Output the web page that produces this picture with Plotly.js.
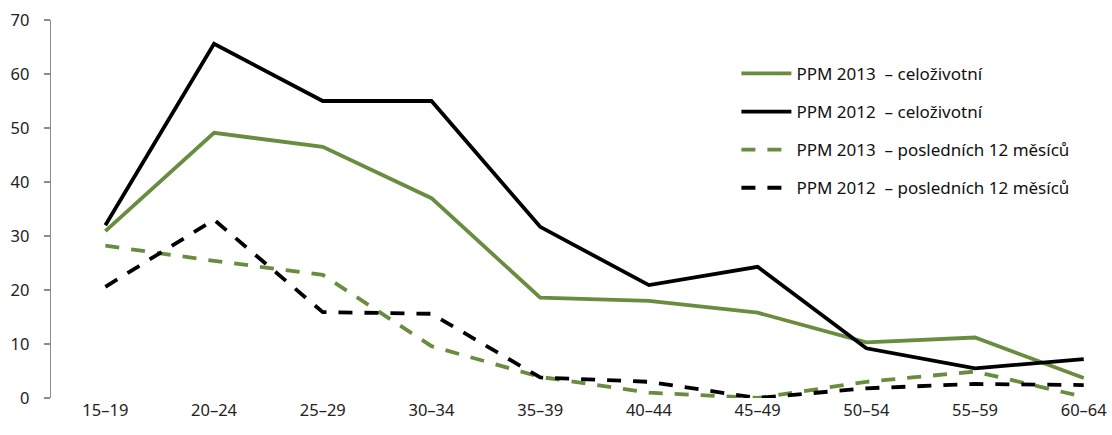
<!DOCTYPE html>
<html>
<head>
<meta charset="utf-8">
<script src="https://cdn.plot.ly/plotly-3.0.1.min.js"></script>
<style>html,body{margin:0;padding:0;background:#fff;}#chart{width:1112px;height:435px;}</style>
</head>
<body>
<div id="chart"></div>
<script>
const categories = ["15–19","20–24","25–29","30–34","35–39","40–44","45–49","50–54","55–59","60–64"];
const ppm2013Life = [30.9, 49.1, 46.5, 37.0, 18.6, 18.0, 15.8, 10.3, 11.2, 3.7];
const ppm2012Life = [32.0, 65.6, 55.0, 55.0, 31.7, 20.9, 24.3, 9.2, 5.5, 7.2];
const ppm2013Last12 = [28.2, 25.4, 22.8, 9.6, 3.9, 1.0, 0.0, 3.0, 4.9, 0.2];
const ppm2012Last12 = [20.6, 33.0, 15.9, 15.6, 3.8, 3.0, 0.0, 1.8, 2.6, 2.4];
const seriesNames = ["PPM 2013  – celoživotní","PPM 2012  – celoživotní","PPM 2013  – posledních 12 měsíců","PPM 2012  – posledních 12 měsíců"];

const green = "#6a8c3f";
const black = "#000000";
const traces = [
  {y: ppm2013Life, name: seriesNames[0], line:{color:green, width:3.8}, legendgroup:"a"},
  {y: ppm2012Life, name: seriesNames[1], line:{color:black, width:3.8}, legendgroup:"b"},
  {y: ppm2013Last12, name: seriesNames[2], line:{color:green, width:3.8, dash:"14px,12px"}, legendgroup:"c"},
  {y: ppm2012Last12, name: seriesNames[3], line:{color:black, width:3.8, dash:"14px,12px"}, legendgroup:"d"}
].map(t => Object.assign({x: categories, type:"scatter", mode:"lines", hoverinfo:"skip"}, t));

const layout = {
  width:1112, height:435,
  margin:{l:51, r:0, t:20, b:37},
  paper_bgcolor:"#fff", plot_bgcolor:"#fff",
  font:{family:"Noto Sans, sans-serif", size:16, color:"#222"},
  showlegend:true,
  legend:{x:0.646, y:0.905, xanchor:"left", yanchor:"top", bgcolor:"rgba(0,0,0,0)",
          font:{size:17, color:"#111"}, tracegroupgap:13, itemwidth:50},
  xaxis:{type:"category", range:[-0.5, 9.26], showline:false, showgrid:false, zeroline:false,
         ticks:"", tickfont:{size:16.5, color:"#222"}, fixedrange:true},
  yaxis:{range:[0,70], dtick:10, showline:true, linecolor:"#8c8c8c", linewidth:1.3,
         ticks:"outside", ticklen:6, tickcolor:"#8c8c8c", tickwidth:1.3,
         showgrid:false, zeroline:false, tickfont:{size:16.5, color:"#222"}, ticklabelstandoff:11, fixedrange:true}
};
Plotly.newPlot("chart", traces, layout, {displayModeBar:false, staticPlot:true});
</script>
</body>
</html>
